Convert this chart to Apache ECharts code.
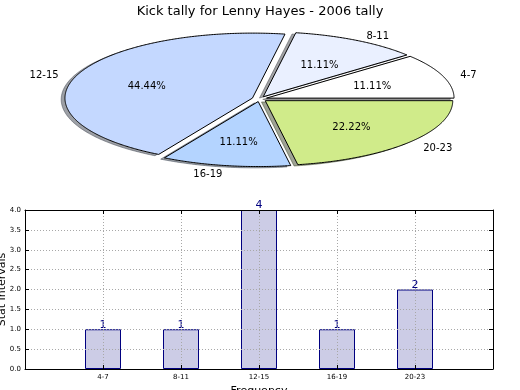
<!DOCTYPE html>
<html><head><meta charset="utf-8">
<script src="https://cdn.jsdelivr.net/npm/echarts@6/dist/echarts.min.js"></script>
<style>html,body{margin:0;padding:0;background:#fff}#c{width:520px;height:390px}</style>
</head><body><div id="c"></div>
<script>
// ---- data ----
const categories = ['4-7', '8-11', '12-15', '16-19', '20-23'];
const tallyValues = [1, 1, 4, 1, 2];
const xPositions = [1, 2, 3, 4, 5];
const pieColors = ['#ffffff', '#eaf0ff', '#c4d8ff', '#b4d4ff', '#d0eb8a'];
const titleText = 'Kick tally for Lenny Hayes - 2006 tally';
const xAxisName = 'Frequency';
const yAxisName = 'Stat Intervals';

// ---- layout / style ----
const FONT = 'DejaVu Sans';
const PIE = { cx: 259.5, cy: 99, rx: 187.5, ry: 65, explode: 0.04, shadowOff: 0.02, labelDist: 1.1, pctDist: 0.6, textDy: 2 };
const total = tallyValues.reduce((a, b) => a + b, 0);

function sliceAngles(idx) {
  let s = 0;
  for (let i = 0; i < idx; i++) s += tallyValues[i];
  return [s / total * 2 * Math.PI, (s + tallyValues[idx]) / total * 2 * Math.PI];
}
function wedgePoints(ox, oy, a0, a1) {
  const pts = [[PIE.cx + ox, PIE.cy + oy]];
  const n = Math.max(4, Math.ceil((a1 - a0) / (Math.PI / 360)));
  for (let k = 0; k <= n; k++) {
    const t = a0 + (a1 - a0) * k / n;
    pts.push([PIE.cx + ox + PIE.rx * Math.cos(t), PIE.cy + oy - PIE.ry * Math.sin(t)]);
  }
  return pts;
}
function explodeOffset(m) {
  return [PIE.explode * PIE.rx * Math.cos(m), -PIE.explode * PIE.ry * Math.sin(m)];
}
function shadowColor(hex) {
  const r = parseInt(hex.slice(1, 3), 16), g = parseInt(hex.slice(3, 5), 16), b = parseInt(hex.slice(5, 7), 16);
  return 'rgba(' + Math.round(r * 0.3) + ',' + Math.round(g * 0.3) + ',' + Math.round(b * 0.3) + ',0.5)';
}

const chart = echarts.init(document.getElementById('c'), null, { renderer: 'canvas' });

const axisLineStyle = { show: true, onZero: false, lineStyle: { color: '#000', width: 1 } };
const tickStyle = { show: true, inside: true, length: 4, lineStyle: { color: '#000', width: 1 } };
const gridLine = { show: true, showMinLine: false, showMaxLine: false, lineStyle: { color: '#a8a8a8', width: 1, type: [1, 2] } };

chart.setOption({
  animation: false,
  backgroundColor: '#fff',
  title: {
    text: titleText, left: 'center', top: 0,
    textStyle: { fontFamily: FONT, fontSize: 13, fontWeight: 'normal', color: '#000' }
  },
  grid: { left: 25, top: 210, width: 468, height: 159, containLabel: false, outerBoundsMode: 'none' },
  xAxis: [{
    type: 'value', min: 0, max: 6, interval: 1, position: 'bottom', z: 3,
    axisLine: axisLineStyle, axisTick: tickStyle, splitLine: gridLine,
    axisLabel: {
      margin: 5, fontSize: 7, fontFamily: FONT, color: '#000',
      formatter: v => { const i = xPositions.indexOf(v); return i >= 0 ? categories[i] : ''; }
    },
    name: xAxisName, nameLocation: 'middle', nameGap: 17, nameMoveOverlap: false,
    nameTextStyle: { fontFamily: FONT, fontSize: 11, color: '#000' }
  }, {
    type: 'value', min: 0, max: 6, interval: 1, position: 'top', z: 3,
    axisLine: axisLineStyle, axisTick: tickStyle, axisLabel: { show: false }, splitLine: { show: false }
  }],
  yAxis: [{
    type: 'value', min: 0, max: 4, interval: 0.5, position: 'left', z: 3,
    axisLine: axisLineStyle, axisTick: tickStyle, splitLine: gridLine,
    axisLabel: { margin: 4, fontSize: 7, fontFamily: FONT, color: '#000', formatter: v => v.toFixed(1) },
    name: yAxisName, nameLocation: 'middle', nameGap: 17, nameMoveOverlap: false,
    nameTextStyle: { fontFamily: FONT, fontSize: 11, color: '#000' }
  }, {
    type: 'value', min: 0, max: 4, interval: 0.5, position: 'right', z: 3,
    axisLine: axisLineStyle, axisTick: tickStyle, axisLabel: { show: false }, splitLine: { show: false }
  }],
  series: [
    {
      type: 'custom', coordinateSystem: 'none', z: 1, silent: true,
      data: tallyValues,
      renderItem: function (params, api) {
        const i = params.dataIndex;
        const [a0, a1] = sliceAngles(i);
        const m = (a0 + a1) / 2;
        const [ox, oy] = explodeOffset(m);
        const sdx = -PIE.shadowOff * PIE.rx, sdy = PIE.shadowOff * PIE.ry;
        const col = shadowColor(pieColors[i]);
        return {
          type: 'polygon', shape: { points: wedgePoints(ox + sdx, oy + sdy, a0, a1) },
          style: { fill: col, stroke: col, lineWidth: 1 }
        };
      }
    },
    {
      type: 'custom', coordinateSystem: 'none', z: 2, silent: true,
      data: tallyValues,
      renderItem: function (params, api) {
        const i = params.dataIndex;
        const [a0, a1] = sliceAngles(i);
        const m = (a0 + a1) / 2;
        const [ox, oy] = explodeOffset(m);
        const c = Math.cos(m), s = Math.sin(m);
        const lx = PIE.cx + ox + PIE.labelDist * PIE.rx * c;
        const ly = PIE.cy + oy - PIE.labelDist * PIE.ry * s + PIE.textDy;
        const px = PIE.cx + ox + PIE.pctDist * PIE.rx * c;
        const py = PIE.cy + oy - PIE.pctDist * PIE.ry * s + PIE.textDy;
        const pct = (api.value(0) / total * 100).toFixed(2) + '%';
        return {
          type: 'group', children: [
            { type: 'polygon', shape: { points: wedgePoints(ox, oy, a0, a1) },
              style: { fill: pieColors[i], stroke: '#000', lineWidth: 1, lineJoin: 'miter' } },
            { type: 'text', z2: 10, style: { text: categories[i], x: lx, y: ly, align: c > 0 ? 'left' : 'right', verticalAlign: 'middle', fontSize: 10, fontFamily: FONT, fill: '#000' } },
            { type: 'text', z2: 10, style: { text: pct, x: px, y: py, align: 'center', verticalAlign: 'middle', fontSize: 10, fontFamily: FONT, fill: '#000' } }
          ]
        };
      }
    },
    {
      type: 'bar', xAxisIndex: 0, yAxisIndex: 0, z: 2,
      data: xPositions.map((x, i) => [x, tallyValues[i]]),
      barWidth: 36,
      itemStyle: { color: '#ccccE6', borderColor: '#000080', borderWidth: 1 },
      label: { show: true, position: 'top', distance: -1, color: '#000080', fontSize: 11, fontFamily: FONT, formatter: p => String(p.value[1]) }
    }
  ]
});
</script></body></html>
